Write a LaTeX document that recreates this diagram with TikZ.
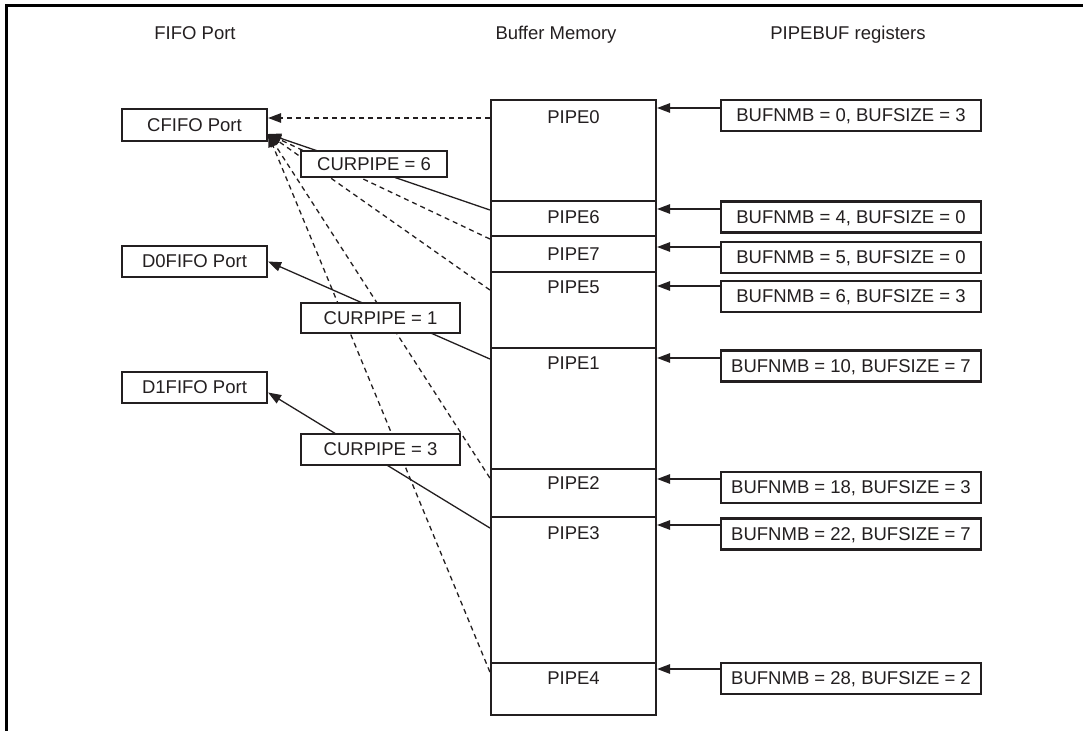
\documentclass[tikz,border=0pt]{standalone}
\usepackage{fontspec}
\setmainfont{Liberation Sans}
\usetikzlibrary{arrows.meta,calc}
\definecolor{ink}{HTML}{231F20}
\begin{document}
\begin{tikzpicture}[x=1bp,y=-1bp,
  every node/.style={font=\fontsize{18.5bp}{22bp}\selectfont, text depth=0pt, inner sep=0pt, text=ink},
  box/.style={draw=ink, line width=2.2bp, fill=white, rectangle},
  sect/.style={draw=ink, line width=2.2bp, rectangle, minimum width=165bp},
  regbox/.style={box, minimum width=260bp, minimum height=31bp},
  portbox/.style={box, minimum width=145bp, minimum height=31bp},
  conn/.style={draw=ink, line width=1.3bp, -{Triangle[length=13bp,width=9.5bp]}},
  dconn/.style={conn, dash pattern=on 5bp off 4bp},
]
\useasboundingbox (0,0) rectangle (1092,731);
% frame
\draw[black, line width=3bp] (6,731) -- (6,6) -- (1083,6);

% titles
\node (h1) at (195,33) {FIFO Port};
\node (h2) at (556,33) {Buffer Memory};
\node (h3) at (848,33) {PIPEBUF registers};

% FIFO ports
\node[portbox, minimum height=32bp] (cf) at (194.5,125) {CFIFO Port};
\node[portbox] (d0) at (194.5,261.5) {D0FIFO Port};
\node[portbox] (d1) at (194.5,387.5) {D1FIFO Port};

% buffer memory sections
\node[sect, minimum height=101bp] (p0) at (573.5,150.5) {};
\node[sect, minimum height=35bp]  (p6) at (573.5,218.5) {};
\node[sect, minimum height=36bp]  (p7) at (573.5,254) {};
\node[sect, minimum height=76bp]  (p5) at (573.5,310) {};
\node[sect, minimum height=121bp] (p1) at (573.5,408.5) {};
\node[sect, minimum height=48bp]  (p2) at (573.5,493) {};
\node[sect, minimum height=146bp] (p3) at (573.5,590) {};
\node[sect, minimum height=52bp]  (p4) at (573.5,689) {};
\node (t0) at (573.5,117) {PIPE0};
\node (t6) at (573.5,217.5) {PIPE6};
\node (t7) at (573.5,254) {PIPE7};
\node (t5) at (573.5,287) {PIPE5};
\node (t1) at (573.5,363) {PIPE1};
\node (t2) at (573.5,483) {PIPE2};
\node (t3) at (573.5,533) {PIPE3};
\node (t4) at (573.5,678) {PIPE4};

% PIPEBUF registers
\node[regbox] (r0) at (851,115.5) {BUFNMB = 0, BUFSIZE = 3};
\node[regbox] (r6) at (851,217) {BUFNMB = 4, BUFSIZE = 0};
\node[regbox] (r7) at (851,257.5) {BUFNMB = 5, BUFSIZE = 0};
\node[regbox] (r5) at (851,296.5) {BUFNMB = 6, BUFSIZE = 3};
\node[regbox] (r1) at (851,366) {BUFNMB = 10, BUFSIZE = 7};
\node[regbox] (r2) at (851,487.5) {BUFNMB = 18, BUFSIZE = 3};
\node[regbox] (r3) at (851,534) {BUFNMB = 22, BUFSIZE = 7};
\node[regbox] (r4) at (851,678.5) {BUFNMB = 28, BUFSIZE = 2};

% register arrows
\draw[conn] (r0.west |- 0,108) -- (p0.east |- 0,108);
\draw[conn] (r6.west |- 0,209) -- (p6.east |- 0,209);
\draw[conn] (r7.west |- 0,247) -- (p7.east |- 0,247);
\draw[conn] (r5.west |- 0,286) -- (p5.east |- 0,286);
\draw[conn] (r1.west |- 0,358) -- (p1.east |- 0,358);
\draw[conn] (r2.west |- 0,479) -- (p2.east |- 0,479);
\draw[conn] (r3.west |- 0,525) -- (p3.east |- 0,525);
\draw[conn] (r4.west |- 0,669) -- (p4.east |- 0,669);

% connectors to FIFO ports
\coordinate (cft) at ($(cf.east)+(0,9)$);
\draw[dconn] (p0.west |- 0,118) -- (cf.east |- 0,118);
\draw[conn]  (p6.west |- 0,210) -- (cft);
\draw[dconn] (p7.west |- 0,239) -- (cft);
\draw[dconn] (p5.west |- 0,290) -- (cft);
\draw[dconn] (p2.west |- 0,478) -- (cft);
\draw[dconn] (p4.west |- 0,672) -- (cft);
\draw[conn]  (p1.west |- 0,359) -- (d0.east);
\draw[conn]  (p3.west |- 0,528) -- ($(d1.east)+(0,5)$);

% CURPIPE labels
\node[box, minimum width=146bp, minimum height=26bp] (c6) at (374,164) {CURPIPE = 6};
\node[box, minimum width=159bp, minimum height=30bp] (c1) at (380.5,318) {CURPIPE = 1};
\node[box, minimum width=159bp, minimum height=31bp] (c3) at (380.5,449.5) {CURPIPE = 3};
\end{tikzpicture}
\end{document}
